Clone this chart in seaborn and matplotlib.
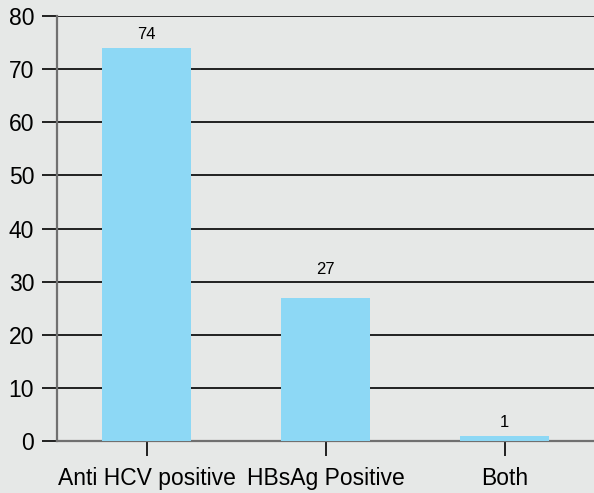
import matplotlib
matplotlib.use("Agg")
import matplotlib.pyplot as plt
import seaborn as sns
import pandas as pd

categories = ["Anti HCV positive", "HBsAg Positive", "Both"]
counts = [74, 27, 1]
y_ticks = [0, 10, 20, 30, 40, 50, 60, 70, 80]

# vertical gap (points) between each bar top and its value label
label_gap = [4.3, 15, 4.3]

bg = "#e6e8e7"
bar_color = "#8dd8f5"

sns.set_theme(style="white")
plt.rcParams["font.family"] = ["Liberation Sans", "DejaVu Sans"]

df = pd.DataFrame({"category": categories, "count": counts})

fig = plt.figure(figsize=(5.94, 4.93), dpi=100, facecolor=bg)
ax = fig.add_axes([0.096, 0.1055, 0.904, 0.862])
ax.set_facecolor(bg)

sns.barplot(data=df, x="category", y="count", color=bar_color, width=0.5,
            saturation=1, linewidth=0, edgecolor="none", ax=ax, zorder=3)

ax.set_ylim(0, 80)
ax.set_xlim(-0.5, 2.5)
ax.set_yticks(y_ticks)
ax.set_xlabel("")
ax.set_ylabel("")

# horizontal rules across the plot
for v in y_ticks[1:]:
    ax.axhline(v, color="black", lw=1.2, zorder=1)

for side in ("top", "right"):
    ax.spines[side].set_visible(False)
for side in ("left", "bottom"):
    ax.spines[side].set_color("#707070")
    ax.spines[side].set_linewidth(1.6)

ax.tick_params(axis="y", length=11, width=1.2, color="black", labelsize=16.5,
               labelcolor="black", left=True, pad=5.5)
ax.tick_params(axis="x", length=11, width=1.2, color="black", labelsize=16.5,
               labelcolor="black", bottom=True, pad=8)

for i, (v, gap) in enumerate(zip(counts, label_gap)):
    ax.annotate(str(v), (i, v), xytext=(0, gap), textcoords="offset points",
                ha="center", va="bottom", fontsize=12, color="black")

fig.savefig("out.png", dpi=100, facecolor=bg)
